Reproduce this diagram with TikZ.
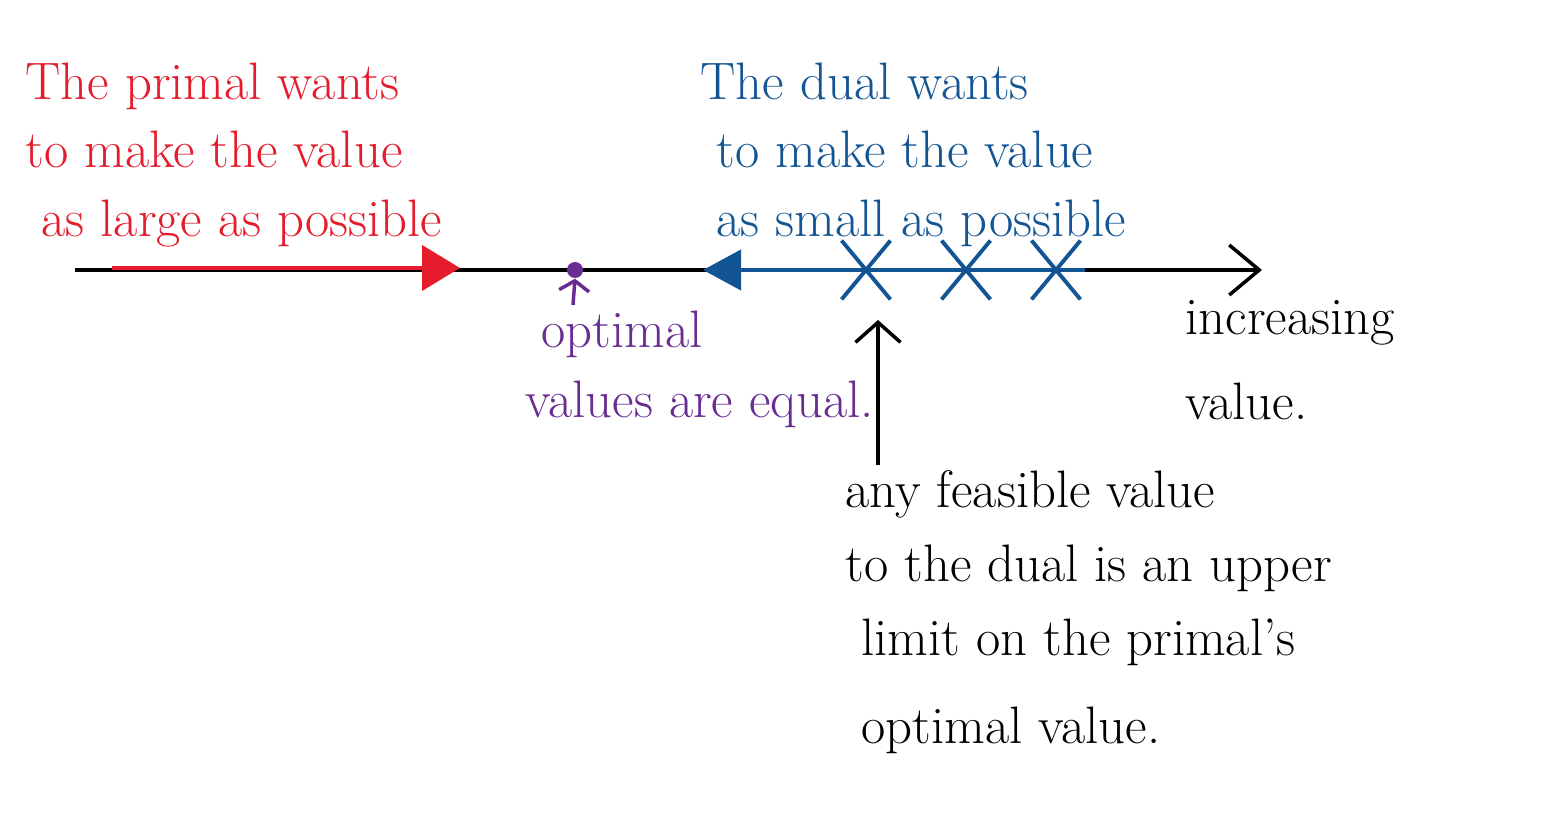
\documentclass[tikz,border=0pt]{standalone}
\usepackage{tikz}
\usetikzlibrary{arrows.meta,shapes.misc,positioning}
\definecolor{primalred}{RGB}{228,28,44}
\definecolor{dualblue}{RGB}{18,84,148}
\definecolor{optpurple}{RGB}{104,44,146}
\tikzset{
  note/.style={anchor=north west,align=left,inner sep=0pt,font=\fontsize{15}{21}\selectfont},
  feasx/.style={draw=dualblue,cross out,line width=1.1pt,minimum width=0.45cm,minimum height=0.55cm,inner sep=0pt},
}

\begin{document}
\begin{tikzpicture}
  \useasboundingbox (0,0) rectangle (15.53,8.15);
  % the value line
  \coordinate (axisstart) at (0.75,5.45);
  \coordinate (axisend) at (12.62,5.45);
  \draw[line width=1pt,-{Straight Barb[length=0.3cm,width=0.5cm]}] (axisstart)--(axisend);
  % primal side
  \coordinate (primalstart) at (1.12,5.47);
  \coordinate (primalend) at (4.6,5.47);
  \draw[line width=1.2pt,primalred,-{Triangle[length=0.38cm,width=0.45cm]}] (primalstart)--(primalend);
  \node[note,text=primalred,font=\fontsize{15}{19.5}\selectfont] (primaltext) at (0.25,7.53) {The primal wants\\to make the value\\\ as large as possible};
  % dual side
  \coordinate (dualstart) at (10.85,5.45);
  \coordinate (dualend) at (7.03,5.45);
  \draw[line width=1.2pt,dualblue,-{Triangle[length=0.38cm,width=0.4cm]}] (dualstart)--(dualend);
  \node[feasx] (x1) at (8.66,5.45) {};
  \node[feasx] (x2) at (9.66,5.45) {};
  \node[feasx] (x3) at (10.56,5.45) {};
  \node[note,text=dualblue,font=\fontsize{15}{19.5}\selectfont] (dualtext) at (7.0,7.53) {The dual wants\\\ to make the value\\\ as small as possible};
  % optimum
  \node[circle,fill=optpurple,inner sep=0pt,minimum size=0.16cm] (opt) at (5.75,5.45) {};
  \coordinate (optbase) at (5.73,5.1);
  \draw[line width=1pt,optpurple,-{Straight Barb[length=0.1cm,width=0.3cm]}] (optbase)--(opt.south);
  \node[note,text=optpurple] (opttext) at (5.25,5.05) {\ optimal\\[-1pt]values are equal.};
  % increasing direction
  \node[note] (incrtext) at (11.85,5.15) {increasing\\[3pt]value.};
  % feasible value
  \coordinate (upbase) at (8.78,3.5);
  \coordinate (uptip) at (8.78,4.95);
  \draw[line width=1pt,-{Straight Barb[length=0.2cm,width=0.45cm]}] (upbase)--(uptip);
  \node[note] (feastext) at (8.45,3.45) {any feasible value\\to the dual is an upper\\\ limit on the primal's\\[4pt]\ optimal value.};
\end{tikzpicture}
\end{document}
